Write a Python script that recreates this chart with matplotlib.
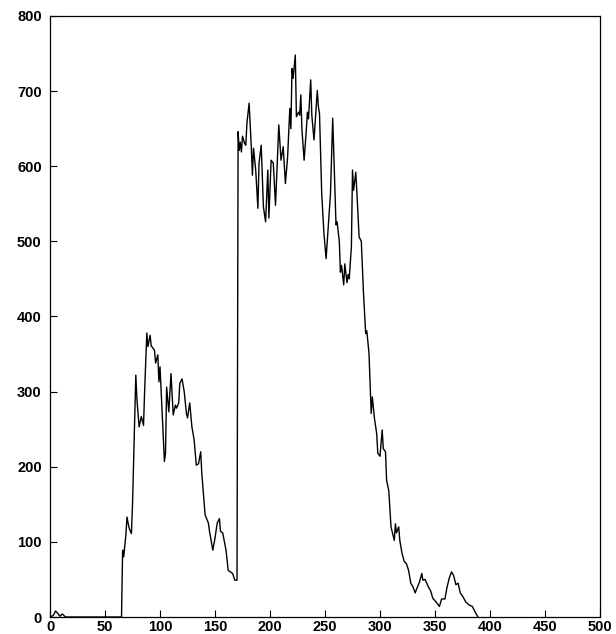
import matplotlib
matplotlib.use('Agg')
import matplotlib.pyplot as plt

# bin positions and counts of the distribution
xs = [0, 3, 5, 7, 9, 11, 12, 14, 65, 66, 67, 69, 70, 71, 72, 74, 75, 78, 79, 81, 83, 85,
      86, 88, 89, 91, 92, 95, 96, 98, 99, 100, 104, 105, 106, 108, 110, 112, 114, 115,
      117, 118, 120, 122, 124, 125, 127, 129, 131, 133, 135, 137, 138, 141, 144, 145,
      148, 150, 152, 154, 155, 157, 160, 162, 164, 166, 168, 170, 171, 172, 173, 174,
      175, 177, 178, 179, 181, 183, 184, 185, 187, 189, 190, 192, 194, 196, 198, 199,
      201, 203, 205, 208, 210, 212, 214, 216, 218, 219, 220, 221, 223, 224, 226, 227,
      228, 229, 231, 233, 234, 235, 237, 238, 240, 243, 244, 245, 247, 249, 251, 253,
      255, 257, 258, 260, 261, 263, 264, 265, 267, 268, 270, 271, 272, 274, 275, 276,
      278, 279, 281, 283, 285, 287, 288, 290, 292, 293, 295, 297, 298, 300, 302, 303,
      305, 306, 308, 310, 313, 314, 315, 317, 318, 320, 322, 324, 326, 328, 330, 332,
      333, 336, 338, 339, 341, 344, 346, 348, 351, 354, 356, 359, 361, 363, 365, 367,
      369, 371, 373, 375, 378, 381, 384, 386, 389]
counts = [0, 2, 8, 5, 1, 4, 3, 0, 0, 89, 80, 110, 133, 125, 118, 111, 150, 322, 290, 253,
          267, 255, 300, 378, 360, 375, 361, 355, 338, 349, 313, 333, 207, 218, 306, 273,
          324, 269, 282, 278, 285, 311, 317, 300, 271, 265, 285, 253, 236, 202, 204, 220,
          191, 136, 125, 114, 89, 105, 125, 131, 114, 112, 89, 62, 60, 58, 49, 49, 646,
          621, 632, 619, 640, 630, 628, 657, 684, 626, 588, 624, 595, 544, 604, 628, 546,
          526, 595, 531, 608, 604, 548, 655, 608, 626, 577, 612, 677, 650, 730, 717, 748,
          666, 672, 668, 695, 650, 608, 648, 672, 663, 715, 668, 635, 701, 679, 670, 564,
          511, 477, 520, 564, 664, 618, 522, 526, 500, 459, 468, 442, 470, 445, 456, 450,
          493, 595, 568, 592, 565, 506, 500, 431, 377, 381, 351, 271, 293, 264, 244, 218,
          214, 249, 224, 220, 182, 168, 120, 102, 124, 112, 120, 102, 85, 74, 71, 62, 45,
          40, 32, 36, 47, 58, 49, 50, 40, 35, 25, 20, 14, 24, 24, 40, 52, 60, 55, 43, 45,
          32, 28, 20, 16, 14, 8, 0]

plt.rcParams['font.family'] = ['Liberation Sans', 'DejaVu Sans']
fig = plt.figure(figsize=(6.16, 6.34), dpi=100)
ax = fig.add_axes([0.0812, 0.0268, 0.8928, 0.948])
ax.plot(xs, counts, color='black', linewidth=1.0)

ax.set_xlim(0, 500)
ax.set_ylim(0, 800)
ax.set_xticks(range(0, 501, 50))
ax.set_yticks(range(0, 801, 100))
ax.tick_params(direction='in', length=5, width=0.8, labelsize=10.5,
               top=False, right=False)
ax.tick_params(axis='y', pad=6)
ax.tick_params(axis='x', pad=2)
for lbl in ax.get_xticklabels() + ax.get_yticklabels():
    lbl.set_fontweight('bold')
for s in ax.spines.values():
    s.set_linewidth(0.9)

plt.savefig('out.png', dpi=100)
